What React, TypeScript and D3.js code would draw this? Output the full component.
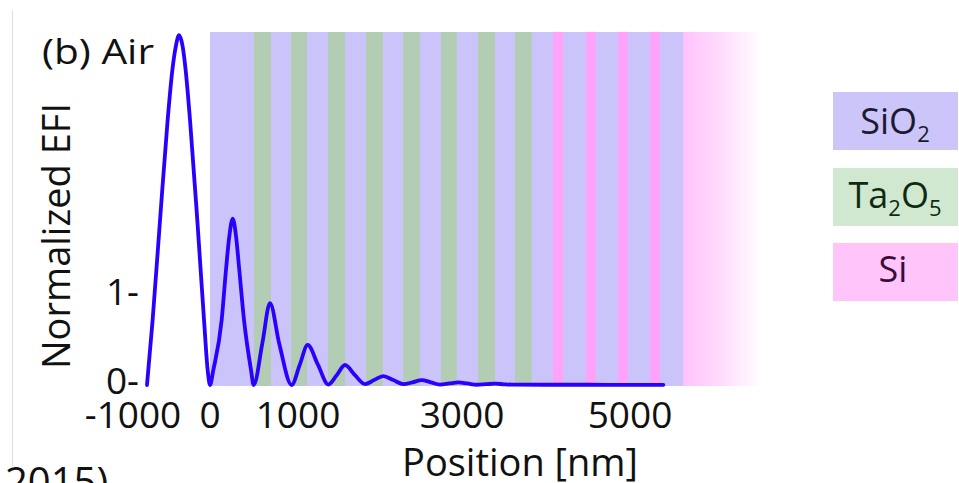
import React from "react";
import * as d3 from "d3";

// EFI curve (position in nm, normalized EFI)
const positionNm = [
  -750, -683, -595, -504, -448, -408, -369, -325, -290, -238, -151, -71, -28, 0,
  40, 139, 190, 230, 270, 310, 349, 405, 488, 520,
  625, 714, 825, 972,
  1068, 1163, 1286, 1409,
  1508, 1607, 1726, 1845,
  1954, 2063, 2182, 2302,
  2411, 2520, 2629, 2738,
  2847, 2956, 3065, 3175,
  3284, 3393, 3500, 3600, 4000, 4500, 5000, 5397,
];
const efi = [
  0, 0.73, 1.85, 2.98, 3.54, 3.8, 3.93, 3.8, 3.54, 2.98, 1.85, 0.73, 0.17, 0,
  0.17, 0.73, 1.29, 1.67, 1.87, 1.67, 1.29, 0.73, 0.17, 0,
  0.48, 0.92, 0.46, 0,
  0.225, 0.45, 0.225, 0.005,
  0.11, 0.225, 0.11, 0.01,
  0.055, 0.1, 0.055, 0.01,
  0.03, 0.055, 0.03, 0.005,
  0.017, 0.03, 0.017, 0.003,
  0.009, 0.015, 0.008, 0.004, 0.003, 0.003, 0.002, 0.002,
];

// layer stack (material, thickness nm)
const layerMaterial = [
  "SiO2",
  "Ta2O5", "SiO2", "Ta2O5", "SiO2", "Ta2O5", "SiO2", "Ta2O5", "SiO2",
  "Ta2O5", "SiO2", "Ta2O5", "SiO2", "Ta2O5", "SiO2", "Ta2O5", "SiO2",
  "Si", "SiO2", "Si", "SiO2", "Si", "SiO2", "Si", "SiO2",
  "substrate",
];
const layerThicknessNm = [
  524,
  202, 238, 191, 250, 202, 250, 203, 238,
  202, 250, 190, 250, 203, 238, 202, 250,
  119, 274, 119, 262, 119, 262, 119, 274,
  940,
];

const xTickValues = [-1000, 0, 1000, 3000, 5000];
const xTickLabels = ["-1000", "0", "1000", "3000", "5000"];
const yTickValues = [0, 1];
const yTickLabels = ["0-", "1-"];
const legendItems = ["SiO2", "Ta2O5", "Si"];

const FONT = "'Open Sans', 'Liberation Sans', sans-serif";
const bandColor: Record<string, string> = {
  SiO2: "#cbc4fa",
  Ta2O5: "#b2cdb4",
  Si: "#ffa2fa",
  substrate: "url(#subGrad)",
};
const legendFill: Record<string, string> = {
  SiO2: "#cbc5fa",
  Ta2O5: "#cfe8cf",
  Si: "#ffc5fb",
};
const legendText: Record<string, string> = {
  SiO2: "#1d1a30",
  Ta2O5: "#102a12",
  Si: "#3a0c38",
};

export default function App() {
  const W = 959;
  const H = 483;
  const x = d3.scaleLinear().domain([0, 5000]).range([210, 630]);
  const y = d3.scaleLinear().domain([0, 1]).range([385, 296]);
  const bandTop = 32;
  const bandBottom = 386;

  const ends = d3.cumsum(layerThicknessNm);
  const layers = layerMaterial.map((m, i) => ({
    m,
    x0: i === 0 ? 0 : ends[i - 1],
    x1: ends[i],
  }));

  const pts = positionNm.map((p, i) => [p, efi[i]] as [number, number]);
  const line = d3
    .line<[number, number]>()
    .x((d) => x(d[0]))
    .y((d) => y(d[1]))
    .curve(d3.curveMonotoneX);

  const legendY = [92, 168, 243];

  return (
    <svg
      width={W}
      height={H}
      style={{ position: "absolute", left: 0, top: 0, background: "#fff" }}
      fontFamily={FONT}
    >
      <defs>
        <linearGradient id="subGrad" x1="0" x2="1" y1="0" y2="0">
          <stop offset="0" stopColor="#ffc2fc" />
          <stop offset="0.5" stopColor="#ffdcfd" />
          <stop offset="1" stopColor="#ffffff" />
        </linearGradient>
      </defs>

      {/* faint left border */}
      <line x1={12.5} x2={12.5} y1={10} y2={466} stroke="#e2e2e2" strokeWidth={1.2} />

      {/* layer bands */}
      {layers.map((l, i) => (
        <rect
          key={i}
          x={x(l.x0)}
          y={bandTop}
          width={x(l.x1) - x(l.x0)}
          height={bandBottom - bandTop}
          fill={bandColor[l.m]}
        />
      ))}

      {/* EFI curve */}
      <path
        d={line(pts) || ""}
        fill="none"
        stroke="#2a00ff"
        strokeWidth={3.8}
        strokeLinecap="round"
        strokeLinejoin="round"
      />

      {/* y ticks */}
      {yTickValues.map((v, i) => (
        <text key={v} x={139} y={y(v) + 9} textAnchor="end" fontSize={37} fill="#111">
          {yTickLabels[i]}
        </text>
      ))}

      {/* x ticks */}
      {xTickValues.map((v, i) => (
        <text key={v} x={x(v) + (v === 1000 ? 4 : v === -1000 ? 7 : 0)} y={428} textAnchor="middle" fontSize={37} fill="#111">
          {xTickLabels[i]}
        </text>
      ))}

      {/* axis titles */}
      <text x={520} y={476} textAnchor="middle" fontSize={38} fill="#111">
        Position [nm]
      </text>
      <text
        transform="translate(70,236) rotate(-90)"
        textAnchor="middle"
        fontSize={38}
        fill="#111"
      >
        Normalized EFI
      </text>
      <text x={42} y={64} fontSize={34} fill="#111" textLength={112} lengthAdjust="spacingAndGlyphs">
        (b) Air
      </text>
      <text x={5} y={496} fontSize={40} fill="#111">
        2015)
      </text>

      {/* legend */}
      {legendItems.map((m, i) => (
        <g key={m}>
          <rect x={833} y={legendY[i]} width={125} height={58} fill={legendFill[m]} />
          {m === "SiO2" && (
            <text x={895} y={legendY[i] + 42} textAnchor="middle" fontSize={36} fill={legendText[m]}>
              SiO<tspan fontSize={22} dy={8}>2</tspan>
            </text>
          )}
          {m === "Ta2O5" && (
            <text x={895} y={legendY[i] + 40} textAnchor="middle" fontSize={36} fill={legendText[m]}>
              Ta<tspan fontSize={22} dy={8}>2</tspan>
              <tspan dy={-8}>O</tspan>
              <tspan fontSize={22} dy={8}>5</tspan>
            </text>
          )}
          {m === "Si" && (
            <text x={893} y={legendY[i] + 39} textAnchor="middle" fontSize={36} fill={legendText[m]}>
              Si
            </text>
          )}
        </g>
      ))}
    </svg>
  );
}
